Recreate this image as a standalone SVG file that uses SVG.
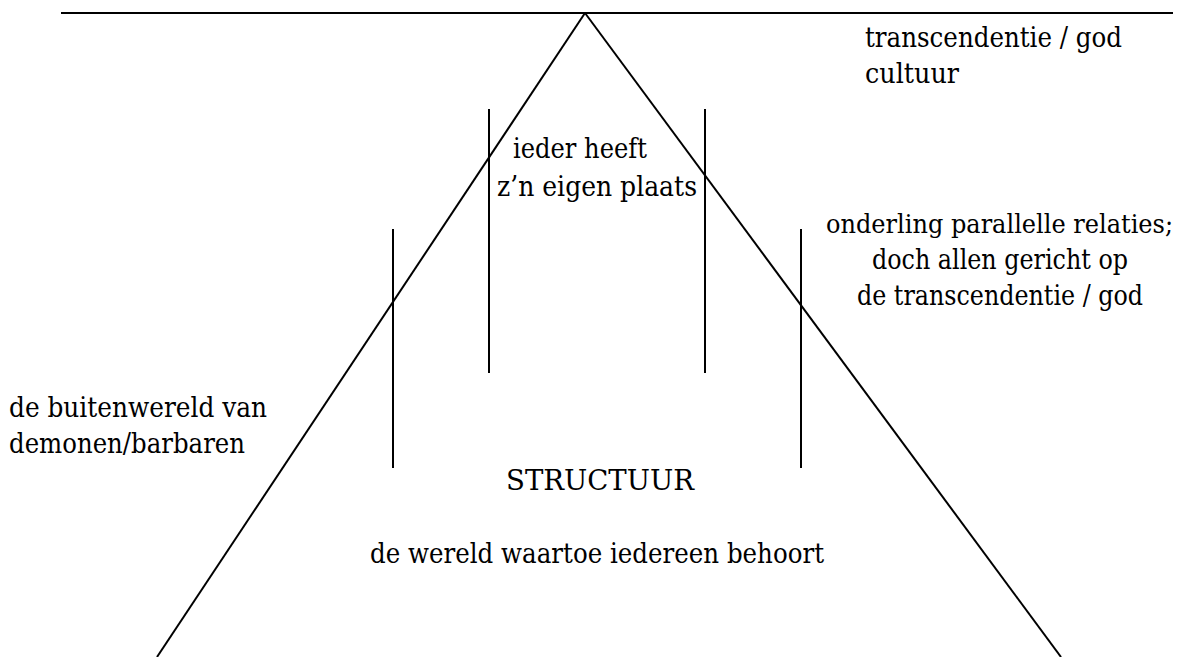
<svg xmlns="http://www.w3.org/2000/svg" width="1204" height="657" viewBox="0 0 1204 657">
<style>
.ln{stroke:#000;stroke-width:2;fill:none}
.t{font-family:"DejaVu Serif",serif;font-size:28.5px;fill:#000}
.c{text-anchor:middle}
</style>
<rect width="1204" height="657" fill="#fff"/>
<g id="connectors">
<line class="ln" x1="61" y1="13" x2="1173" y2="13"/>
<line class="ln" x1="585" y1="13" x2="157" y2="657"/>
<line class="ln" x1="585" y1="13" x2="1061" y2="657"/>
<line class="ln" x1="393" y1="229" x2="393" y2="468"/>
<line class="ln" x1="489" y1="109" x2="489" y2="373"/>
<line class="ln" x1="705" y1="109" x2="705" y2="373"/>
<line class="ln" x1="801" y1="229" x2="801" y2="468"/>
</g>
<g id="top-label">
<text class="t" x="865" y="47" textLength="257" lengthAdjust="spacingAndGlyphs">transcendentie / god</text>
<text class="t" x="865" y="83" textLength="94" lengthAdjust="spacingAndGlyphs">cultuur</text>
</g>
<g id="place-label">
<text class="t" x="513" y="158" textLength="134" lengthAdjust="spacingAndGlyphs">ieder heeft</text>
<text class="t" x="497" y="196" textLength="200" lengthAdjust="spacingAndGlyphs">z’n eigen plaats</text>
</g>
<g id="relations-label">
<text class="t c" x="999.5" y="233" style="font-size:26px" textLength="347" lengthAdjust="spacingAndGlyphs">onderling parallelle relaties;</text>
<text class="t c" x="1000" y="269" textLength="256" lengthAdjust="spacingAndGlyphs">doch allen gericht op</text>
<text class="t c" x="1000" y="305" textLength="286" lengthAdjust="spacingAndGlyphs">de transcendentie / god</text>
</g>
<g id="outside-label">
<text class="t" x="9" y="417" textLength="258" lengthAdjust="spacingAndGlyphs">de buitenwereld van</text>
<text class="t" x="9" y="453" textLength="236" lengthAdjust="spacingAndGlyphs">demonen/barbaren</text>
</g>
<g id="structure-label">
<text class="t c" x="600" y="490" textLength="188" lengthAdjust="spacingAndGlyphs">STRUCTUUR</text>
<text class="t c" x="597" y="563" textLength="454" lengthAdjust="spacingAndGlyphs">de wereld waartoe iedereen behoort</text>
</g>
</svg>
